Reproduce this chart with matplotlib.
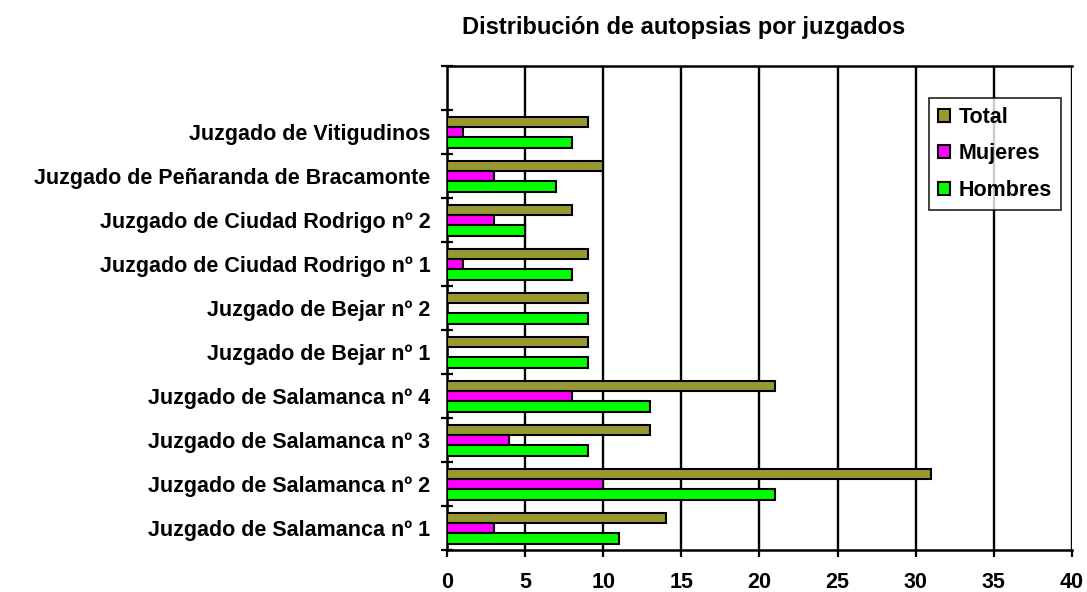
import numpy as np
import matplotlib.pyplot as plt

plt.rcParams['font.family'] = ['Liberation Sans', 'DejaVu Sans']
plt.rcParams['font.weight'] = 'bold'

juzgados = [
    'Juzgado de Salamanca nº 1',
    'Juzgado de Salamanca nº 2',
    'Juzgado de Salamanca nº 3',
    'Juzgado de Salamanca nº 4',
    'Juzgado de Bejar nº 1',
    'Juzgado de Bejar nº 2',
    'Juzgado de Ciudad Rodrigo nº 1',
    'Juzgado de Ciudad Rodrigo nº 2',
    'Juzgado de Peñaranda de Bracamonte',
    'Juzgado de Vitigudinos',
]
total = [14, 31, 13, 21, 9, 9, 9, 8, 10, 9]
mujeres = [3, 10, 4, 8, 0, 0, 1, 3, 3, 1]
hombres = [11, 21, 9, 13, 9, 9, 8, 5, 7, 8]

fig = plt.figure(figsize=(10.87, 5.92), dpi=100)
ax = fig.add_axes([0.4112, 0.0709, 0.575, 0.8176])

y = np.arange(len(juzgados))
h = 0.235
ax.barh(y + h, total, height=h, color='#999933', edgecolor='black', linewidth=1.5, label='Total', zorder=3)
ax.barh(y, mujeres, height=h, color='#FF00FF', edgecolor='black', linewidth=1.5, label='Mujeres', zorder=3)
ax.barh(y - h, hombres, height=h, color='#00FF00', edgecolor='black', linewidth=1.5, label='Hombres', zorder=3)

ax.set_xlim(0, 40)
ax.set_ylim(-0.5, len(juzgados) + 0.5)
ax.set_xticks(np.arange(0, 41, 5))
ax.xaxis.grid(True, color='black', linewidth=1.7, zorder=0)

# tick marks at the slot boundaries, labels at the centres
ax.set_yticks(np.arange(-0.5, len(juzgados) + 1, 1.0))
ax.set_yticklabels([])
ax.set_yticks(y, minor=True)
ax.set_yticklabels(juzgados, minor=True, fontsize=15.5, fontweight='bold')
ax.tick_params(axis='y', which='minor', length=0, pad=12)
ax.tick_params(axis='y', which='major', length=9, width=1.6, direction='inout')
ax.tick_params(axis='x', length=5, width=1.6, direction='out', labelsize=15.5, pad=11)
for lbl in ax.get_xticklabels():
    lbl.set_fontweight('bold')

for side in ['left', 'top', 'bottom']:
    ax.spines[side].set_linewidth(1.8)
ax.spines['right'].set_visible(False)

leg = ax.legend(loc='upper right', bbox_to_anchor=(0.982, 0.934), frameon=True, fancybox=False,
                edgecolor='black', fontsize=15.5, handlelength=0.55, handleheight=0.55,
                labelspacing=0.72, borderpad=0.42, handletextpad=0.4, borderaxespad=0)
leg.get_frame().set_linewidth(1.3)
for t in leg.get_texts():
    t.set_fontweight('bold')

fig.text(0.629, 0.953, 'Distribución de autopsias por juzgados', ha='center', va='center',
         fontsize=17, fontweight='bold')

fig.savefig('out.png', dpi=100)
